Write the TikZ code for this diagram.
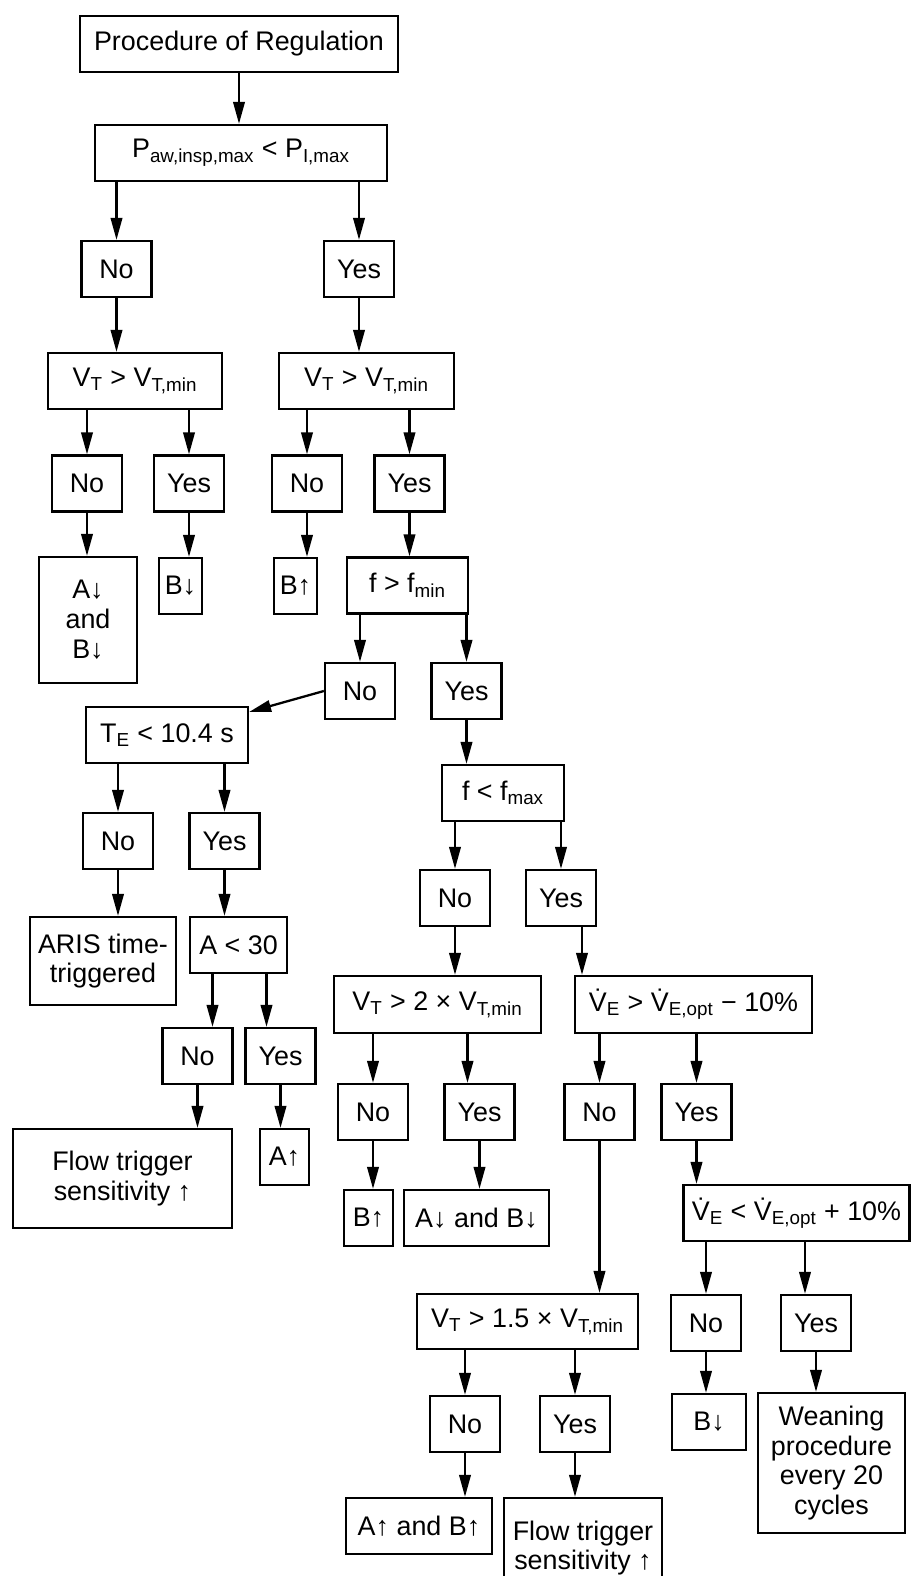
\documentclass[tikz,border=0pt]{standalone}
\usepackage{fontspec}
\setmainfont{Liberation Sans}
\usetikzlibrary{arrows.meta,calc}
\newcommand{\subs}[1]{\textsubscript{#1}}
\newcommand{\Vd}{\.V}

\begin{document}
\begin{tikzpicture}[x=0.02cm,y=-0.02cm,
 box/.style 2 args={draw,line width=1.3pt,inner sep=0pt,align=center,font=\fontsize{15.3}{17}\selectfont,minimum width=#1cm,minimum height=#2cm},
 yn/.style={box={1.4}{1.12}},
 arr/.style={line width=1.3pt,-{Triangle[length=4.4mm,width=2.3mm]}}]
\useasboundingbox(0,0)rectangle(910,1576);
\node[box={6.36}{1.12}](top)at(239,44){Procedure of Regulation};
\node[box={5.84}{1.12}](p)at(241,153){P\subs{aw,insp,max} < P\subs{I,max}};
\node[yn](n1)at(116.5,269){No};
\node[yn](y1)at(359,269){Yes};
\node[box={3.48}{1.12}](vl)at(135,381){V\subs{T} > V\subs{T,min}};
\node[box={3.5}{1.12}](vr)at(366.5,381){V\subs{T} > V\subs{T,min}};
\node[yn](n2)at(87,483.5){No};
\node[yn](y2)at(189,483.5){Yes};
\node[yn](n3)at(307,483.5){No};
\node[yn](y3)at(409.5,483.5){Yes};
\node[box={1.96}{2.52}](ab1)at(88,620){A↓\\and\\B↓};
\node[box={0.86}{1.12}](bd1)at(180.5,586){B↓};
\node[box={0.86}{1.12}](bu1)at(295.5,586){B↑};
\node[box={2.42}{1.12}](f1)at(407.5,585.5){f > f\subs{min}};
\node[yn](n4)at(360,691){No};
\node[yn](y4)at(466.5,691){Yes};
\node[box={3.24}{1.12}](te)at(167,735){T\subs{E} < 10.4 s};
\node[box={2.44}{1.12}](fx)at(503,793){f < f\subs{max}};
\node[yn](n5)at(118,841){No};
\node[yn](y5)at(224.5,841){Yes};
\node[yn](n6)at(455,898){No};
\node[yn](y6)at(561,898){Yes};
\node[box={2.92}{1.76}](aris)at(103,961){ARIS time-\\triggered};
\node[box={1.94}{1.12}](a30)at(238.5,945){A < 30};
\node[box={4.14}{1.14}](v2)at(437.5,1004.5){V\subs{T} > 2 × V\subs{T,min}};
\node[box={4.74}{1.14}](ve1)at(693.5,1004.5){\Vd\subs{E} > \Vd\subs{E,opt} − 10\%};
\node[yn](n7)at(197.5,1056){No};
\node[yn](y7)at(280.5,1056){Yes};
\node[yn](n8)at(373,1112){No};
\node[yn](y8)at(479.5,1112){Yes};
\node[yn](n9)at(599.5,1112){No};
\node[yn](y9)at(696.5,1112){Yes};
\node[box={4.38}{1.98}](flow1)at(122.5,1178.5){Flow trigger\\sensitivity ↑};
\node[box={0.98}{1.12}](au1)at(284.5,1157){A↑};
\node[box={0.98}{1.12}](bu2)at(368.5,1218){B↑};
\node[box={2.9}{1.12}](ab2)at(476.5,1218){A↓ and B↓};
\node[box={4.52}{1.12}](ve2)at(796.5,1213){\Vd\subs{E} < \Vd\subs{E,opt} + 10\%};
\node[box={4.42}{1.1}](v15)at(527.5,1321.5){V\subs{T} > 1.5 × V\subs{T,min}};
\node[yn](n10)at(706,1323){No};
\node[yn](y10)at(816,1323){Yes};
\node[yn](n11)at(465,1424){No};
\node[yn](y11)at(575,1424){Yes};
\node[box={1.48}{1.12}](bd2)at(709,1422){B↓};
\node[box={2.94}{2.8}](wean)at(831.5,1463){Weaning\\procedure\\every 20\\cycles};
\node[box={2.92}{1.12}](ab3)at(419,1526){A↑ and B↑};
\node[box={3.16}{2.0}](flow2)at(583,1548){Flow trigger\\sensitivity ↑};
\coordinate(a30l)at($(a30.south)+(-26,0)$);
\coordinate(a30r)at($(a30.south)+(28,0)$);
\coordinate(y6r)at($(y6.south)+(21,0)$);
\coordinate(y8t)at($(y8.north)+(-12,0)$);
\coordinate(y10t)at($(y10.north)+(-11,0)$);
\draw[arr](top)--(top|-p.north);
\draw[arr](n1|-p.south)--(n1);
\draw[arr](y1|-p.south)--(y1);
\draw[arr](n1)--(n1|-vl.north);
\draw[arr](y1)--(y1|-vr.north);
\draw[arr](n2|-vl.south)--(n2);
\draw[arr](y2|-vl.south)--(y2);
\draw[arr](n3|-vr.south)--(n3);
\draw[arr](y3|-vr.south)--(y3);
\draw[arr](n2)--(n2|-ab1.north);
\draw[arr](y2)--(y2|-bd1.north);
\draw[arr](n3)--(n3|-bu1.north);
\draw[arr](y3)--(y3|-f1.north);
\draw[arr](n4|-f1.south)--(n4);
\draw[arr](y4|-f1.south)--(y4);
\draw[arr](y4)--(y4|-fx.north);
\draw[arr](n4.west)--(te);
\draw[arr](n5|-te.south)--(n5);
\draw[arr](y5|-te.south)--(y5);
\draw[arr](n5)--(n5|-aris.north);
\draw[arr](y5)--(y5|-a30.north);
\draw[arr](a30l)--(a30l|-n7.north);
\draw[arr](a30r)--(a30r|-y7.north);
\draw[arr](n7)--(n7|-flow1.north);
\draw[arr](y7)--(y7|-au1.north);
\draw[arr](n6|-fx.south)--(n6);
\draw[arr](y6|-fx.south)--(y6);
\draw[arr](n6)--(n6|-v2.north);
\draw[arr](y6r)--(y6r|-ve1.north);
\draw[arr](n8|-v2.south)--(n8);
\draw[arr](y8t|-v2.south)--(y8t);
\draw[arr](n9|-ve1.south)--(n9);
\draw[arr](y9|-ve1.south)--(y9);
\draw[arr](n8)--(n8|-bu2.north);
\draw[arr](y8)--(y8|-ab2.north);
\draw[arr](n9)--(n9|-v15.north);
\draw[arr](y9)--(y9|-ve2.north);
\draw[arr](n10|-ve2.south)--(n10);
\draw[arr](y10t|-ve2.south)--(y10t);
\draw[arr](n11|-v15.south)--(n11);
\draw[arr](y11|-v15.south)--(y11);
\draw[arr](n11)--(n11|-ab3.north);
\draw[arr](y11)--(y11|-flow2.north);
\draw[arr](n10)--(n10|-bd2.north);
\draw[arr](y10)--(y10|-wean.north);
\end{tikzpicture}
\end{document}
